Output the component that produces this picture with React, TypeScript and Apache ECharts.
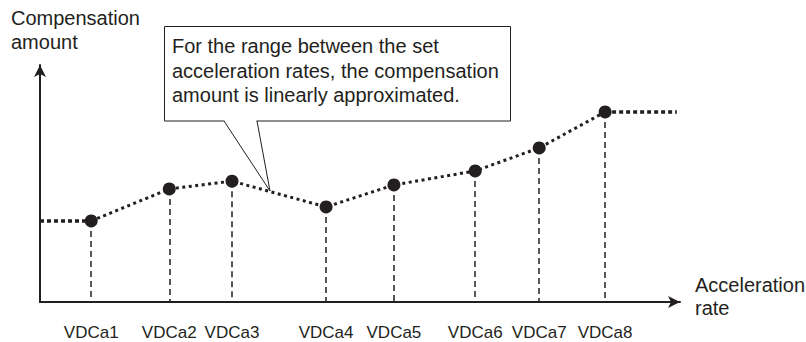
import React, { useEffect, useRef } from "react";
import * as echarts from "echarts";

const tickLabels = ["VDCa1", "VDCa2", "VDCa3", "VDCa4", "VDCa5", "VDCa6", "VDCa7", "VDCa8"];
const accelRates = [8, 20.2, 30, 44.7, 55.3, 68, 78, 88.3];
const compensation = [34.2, 47.7, 51, 40.1, 49.4, 55.3, 65, 80.2];
const flatStart = 0;
const flatEnd = 99.5;
const yAxisTitle = ["Compensation", "amount"];
const xAxisTitle = ["Acceleration", "rate"];
const calloutLines = [
  "For the range between the set",
  "acceleration rates, the compensation",
  "amount is linearly approximated.",
];

const INK = "#231f20";
const FONT = "'Liberation Sans', Arial, sans-serif";

export default function App() {
  const ref = useRef<HTMLDivElement>(null);
  useEffect(() => {
    if (!ref.current) return;
    const chart = echarts.init(ref.current, undefined, { renderer: "svg" });
    const mainData = accelRates.map((x, i) => [x, compensation[i]]);
    const last = accelRates.length - 1;
    chart.setOption({
      animation: false,
      backgroundColor: "#ffffff",
      grid: { left: 40, right: 126, top: 65, bottom: 40 },
      xAxis: {
        type: "value",
        min: 0,
        max: 100,
        splitLine: { show: false },
        axisTick: { show: false },
        axisLine: {
          show: true,
          lineStyle: { color: INK, width: 2 },
          symbol: ["none", "arrow"],
          symbolSize: [9, 12],
        },
        axisLabel: {
          show: true,
          customValues: accelRates,
          margin: 22,
          color: INK,
          fontSize: 17,
          fontFamily: FONT,
          formatter: (v: number) => {
            const i = accelRates.indexOf(v);
            return i >= 0 ? tickLabels[i] : "";
          },
        },
      },
      yAxis: {
        type: "value",
        min: 0,
        max: 100,
        splitLine: { show: false },
        axisTick: { show: false },
        axisLabel: { show: false },
        axisLine: {
          show: true,
          lineStyle: { color: INK, width: 2 },
          symbol: ["none", "arrow"],
          symbolSize: [9, 12],
        },
      },
      series: [
        {
          type: "line",
          data: [],
          silent: true,
          z: 1,
          markLine: {
            silent: true,
            symbol: ["none", "none"],
            label: { show: false },
            lineStyle: { color: INK, width: 1.5, type: [6, 4] },
            data: accelRates.map((x, i) => [
              { coord: [x, compensation[i]] },
              { coord: [x, 0] },
            ]),
          },
        },
        {
          type: "line",
          data: [[flatStart, compensation[0]], [accelRates[0], compensation[0]]],
          symbol: "none",
          silent: true,
          z: 2,
          lineStyle: { color: INK, width: 3.5, type: [4, 3] },
        },
        {
          type: "line",
          data: [[accelRates[last], compensation[last]], [flatEnd, compensation[last]]],
          symbol: "none",
          silent: true,
          z: 2,
          lineStyle: { color: INK, width: 3.5, type: [4, 3] },
        },
        {
          type: "line",
          data: mainData,
          symbol: "circle",
          symbolSize: 13,
          silent: true,
          z: 3,
          itemStyle: { color: INK },
          lineStyle: { color: INK, width: 3, type: [3, 3.5] },
        },
      ],
      graphic: [
        {
          type: "text",
          left: 11,
          top: 6,
          style: {
            text: yAxisTitle.join("\n"),
            font: `20px ${FONT}`,
            fill: INK,
            lineHeight: 24,
          },
        },
        {
          type: "text",
          left: 695,
          top: 273,
          style: {
            text: xAxisTitle.join("\n"),
            font: `20px ${FONT}`,
            fill: INK,
            lineHeight: 23,
          },
        },
        {
          type: "rect",
          shape: { x: 164.5, y: 26.5, width: 346, height: 94.5 },
          style: { fill: "#ffffff", stroke: INK, lineWidth: 1 },
          z: 10,
        },
        {
          type: "line",
          shape: { x1: 224.5, y1: 121, x2: 256.5, y2: 121 },
          style: { stroke: "#ffffff", lineWidth: 2 },
          z: 11,
        },
        {
          type: "polyline",
          shape: { points: [[224, 121], [270, 191], [257, 121]] },
          style: { stroke: INK, lineWidth: 1, fill: "none" },
          z: 12,
        },
        {
          type: "text",
          x: 172,
          y: 34,
          z: 12,
          style: {
            text: calloutLines.join("\n"),
            font: `20px ${FONT}`,
            fill: INK,
            lineHeight: 24.5,
          },
        },
      ],
    });
    return () => chart.dispose();
  }, []);
  return (
    <div
      ref={ref}
      style={{ position: "fixed", left: 0, top: 0, width: 806, height: 342, background: "#fff" }}
    />
  );
}
